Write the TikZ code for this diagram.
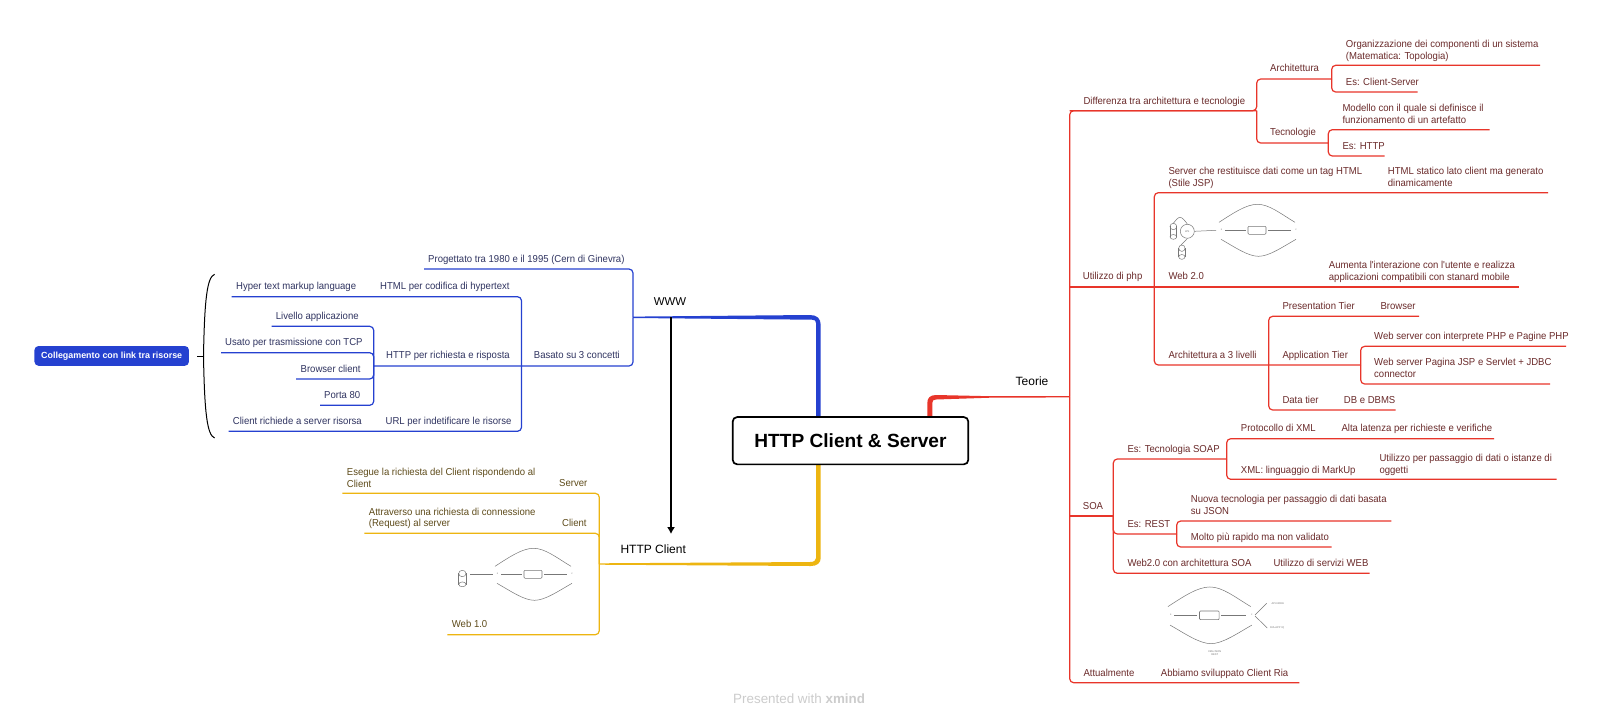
\documentclass[tikz,border=0pt]{standalone}
\usepackage{fontspec}
\setmainfont{Liberation Sans}
\newfontfamily\lblf[FakeStretch=0.945]{Liberation Sans}
\usetikzlibrary{arrows.meta,calc}
\definecolor{bl}{HTML}{2541D0}
\definecolor{blt}{HTML}{2F3360}
\definecolor{rd}{HTML}{E8352A}
\definecolor{rdt}{HTML}{6A2A2A}
\definecolor{yl}{HTML}{EDB511}
\definecolor{ylt}{HTML}{5E4B1A}
\definecolor{gr}{HTML}{777777}
\tikzset{
  lbl/.style={anchor=north west,inner sep=0pt,align=left,font=\lblf\fontsize{10.1}{11.5}\selectfont},
  bt/.style={lbl,text=blt}, rt/.style={lbl,text=rdt}, yt/.style={lbl,text=ylt},
  mainlbl/.style={anchor=center,inner sep=0pt,text=black,font=\fontsize{12}{14}\selectfont},
  rootbox/.style={draw=black,fill=white,line width=1.7pt,rounded corners=4.5pt,minimum width=235.6pt,minimum height=47.3pt,inner sep=0pt,font=\bfseries\fontsize{19.1}{22}\selectfont},
  pill/.style={fill=bl,text=white,rounded corners=4pt,minimum width=154.5pt,minimum height=19.7pt,inner sep=0pt,font=\bfseries\fontsize{8.9}{11}\selectfont},
  bline/.style={draw=bl,line width=1.2pt,rounded corners=4pt},
  rline/.style={draw=rd,line width=1.2pt,rounded corners=4pt},
  yline/.style={draw=yl,line width=1.2pt,rounded corners=4pt},
  pic/.style={draw=gr,line width=0.5pt},
  tiny/.style={inner sep=0pt,text=gr,font=\fontsize{2.6}{3}\selectfont},
}
\newcommand{\tp}[8]{%
  \node[#2] (#1) at (#3,{#4-4.3}) {\rule{0pt}{8pt}#5};
  \coordinate (#1-l) at (#6,#8);
  \coordinate (#1-r) at (#7,#8);}
\newcommand{\srv}[3]{% middle of a web diagram: left x, centre y, scale
  \begin{scope}[shift={(#1,#2)},x=#3pt,y=-#3pt]
    \draw[pic,line width=.6pt,rounded corners=1pt] (28,-4) rectangle (46,4);
    \draw[pic] (5,0) -- (26,0) (48,0) -- (71,0);
    \draw[pic] (-1,-8) .. controls (13,-17) and (26,-26) .. (37.5,-26) .. controls (49,-26) and (60,-17) .. (75,-8);
    \draw[pic] (1,9) .. controls (15,17) and (28,26) .. (38.5,26) .. controls (49,26) and (62,17) .. (76,9);
    \node[tiny] at (1.5,0) {s};
    \node[tiny] at (76,0) {c};
  \end{scope}}
\newcommand{\cyl}[4]{% x0 y0 x1 y1
  \draw[pic] (#1,#2+3) -- (#1,#4-2) (#3,#2+3) -- (#3,#4-2);
  \draw[pic] ({(#1+#3)/2},{#2+3.2}) ellipse ({(#3-#1)/2} and 3.2);
  \draw[pic] ({(#1+#3)/2},{#4-2.4}) ellipse ({(#3-#1)/2} and 2.4);}
\begin{document}
\begin{tikzpicture}[x=1pt,y=-1pt]
\useasboundingbox[fill=white] (0,0) rectangle (1600,721);

% ---------- root
\coordinate (rootc) at (850.5,440.7);

% ---------- blue branch
\node[mainlbl,font=\fontsize{11.4}{14}\selectfont] (www) at (670,301.7) {WWW};
\coordinate (www-l) at (633,317.3);
\tp{proj}{bt}{428}{258.3}{Progettato tra 1980 e il 1995 (Cern di Ginevra)}{424}{633}{269}
\tp{basato}{bt}{533.7}{355}{Basato su 3 concetti}{521.5}{633}{366}
\tp{html}{bt}{380}{286}{HTML per codifica di hypertext}{375}{521.5}{296.7}
\tp{hyper}{bt}{236}{286}{Hyper text markup language}{231.5}{375}{296.7}
\tp{http}{bt}{386}{355}{HTTP per richiesta e risposta}{373.7}{521.5}{366}
\tp{url}{bt}{385.5}{420.7}{URL per indetificare le risorse}{375}{521.5}{431.3}
\tp{creq}{bt}{232.7}{420.7}{Client richiede a server risorsa}{228.5}{375}{431.3}
\tp{liv}{bt}{275.7}{315.7}{Livello applicazione}{271.5}{373.7}{326.3}
\tp{usato}{bt}{225}{341.7}{Usato per trasmissione con TCP}{221}{373.7}{352.7}
\tp{brow}{bt}{300.5}{368.3}{Browser client}{296}{373.7}{379}
\tp{porta}{bt}{324}{394.7}{Porta 80}{320}{373.7}{405.3}
\draw[bline] (proj-l) -- (proj-r) -- (www-l);
\draw[bline] (http-l) -- (basato-r) -- (www-l);
\draw[bline] (hyper-l) -- (html-r) -- (basato-l);
\draw[bline] (creq-l) -- (url-r) -- (basato-l);
\draw[bline] (liv-l) -- (liv-r) -- (http-l);
\draw[bline] (usato-l) -- (usato-r) -- (http-l);
\draw[bline] (brow-l) -- (brow-r) -- (http-l);
\draw[bline] (porta-l) -- (porta-r) -- (http-l);
\fill[bl] ($(www-l)+(0,-.7)$) -- (810,315) .. controls (817,315) and (820.7,318.5) .. (820.7,325) -- (820.7,418) -- (816,418) -- (816,323) .. controls (816,320.8) and (815,319.7) .. (812,319.7) -- ($(www-l)+(0,.7)$) -- cycle;

% brace and floating topic
\node[pill] (coll) at (111.7,355.9) {Collegamento con link tra risorse};
\coordinate (brtip) at (197,356);
\coordinate (brmid) at (203.5,356);
\draw[black,line width=1pt] (214.6,274.3) .. controls (207,277) and (204.5,300) .. (brmid) .. controls (204.5,412) and (207,435) .. (214.6,438);
\draw[black,line width=1pt] (brtip) -- (brmid);

% ---------- yellow branch
\node[mainlbl] (hc) at (653.2,548.7) {HTTP Client};
\coordinate (hc-l) at (599.3,564);
\tp{serv}{yt}{559}{482.7}{Server}{342.3}{599.3}{493.3}
\node[yt] (eseg) at (346.7,467.4) {\rule{0pt}{8pt}Esegue la richiesta del Client rispondendo al\\Client};
\tp{cli}{yt}{562}{522.7}{Client}{364.3}{599.3}{533.3}
\node[yt] (attr) at (368.7,507) {\rule{0pt}{8pt}Attraverso una richiesta di connessione\\(Request) al server};
\tp{w10}{yt}{451.7}{624}{Web 1.0}{447.3}{599.3}{634.7}
\draw[yline] (serv-l) -- (serv-r) -- (hc-l);
\draw[yline] (cli-l) -- (cli-r) -- (hc-l);
\draw[yline] (w10-l) -- (w10-r) -- (hc-l);
\fill[yl] ($(hc-l)+(0,-.7)$) -- (810,562) .. controls (814,562) and (816,560.5) .. (816,558) -- (816,463) -- (820.7,463) -- (820.7,558) .. controls (820.7,563) and (817,566) .. (811,566) -- ($(hc-l)+(0,.7)$) -- cycle;
\srv{496}{574.3}{1}
\cyl{458.7}{570.3}{466}{586.7}
\draw[pic] (470,574.3) -- (493.3,574.3);

% ---------- red branch
\node[mainlbl] (teo) at (1032,381.7) {Teorie};
\coordinate (teo-r) at (1069.7,396.7);
\fill[rd] ($(teo-r)+(0,-.7)$) -- (990,396.2) -- (936,395) .. controls (930,395) and (927.3,398) .. (927.3,403) -- (927.3,418) -- (932.3,418) -- (932.3,403) .. controls (932.3,400.5) and (933.5,399.5) .. (936,399.5) -- (990,397.7) -- ($(teo-r)+(0,.7)$) -- cycle;

\tp{diff}{rt}{1083.3}{100.3}{Differenza tra architettura e tecnologie}{1069.7}{1256.7}{110.7}
\tp{arch}{rt}{1270}{68}{Architettura}{1256.7}{1331.7}{79}
\tp{tecn}{rt}{1270}{132}{Tecnologie}{1256.7}{1328.3}{143}
\tp{org}{rt}{1345.7}{43.7}{Organizzazione dei componenti di un sistema\\(Matematica: Topologia)}{1331.7}{1540}{65.3}
\tp{escs}{rt}{1345.7}{81.3}{Es: Client-Server}{1331.7}{1417.7}{92}
\tp{mod}{rt}{1342.3}{107.7}{Modello con il quale si definisce il\\funzionamento di un artefatto}{1328.3}{1489.7}{129.7}
\tp{eshttp}{rt}{1342.3}{145.3}{Es: HTTP}{1328.3}{1384.7}{156}
\draw[rline] (diff-r) -- (diff-l) -- (teo-r);
\draw[rline] (diff-l) -- (diff-r) -- (arch-l) -- (arch-r);
\draw[rline] (diff-r) -- (tecn-l) -- (tecn-r);
\draw[rline] (org-r) -- (org-l) -- (arch-r);
\draw[rline] (escs-r) -- (escs-l) -- (arch-r);
\draw[rline] (mod-r) -- (mod-l) -- (tecn-r);
\draw[rline] (eshttp-r) -- (eshttp-l) -- (tecn-r);

\tp{util}{rt}{1082.7}{276}{Utilizzo di php}{1069.7}{1154.3}{287}
\tp{w20}{rt}{1168.3}{276}{Web 2.0}{1154.3}{1320}{287}
\tp{aum}{rt}{1328.7}{265}{Aumenta l'interazione con l'utente e realizza\\applicazioni compatibili con stanard mobile}{1320}{1519}{287}
\tp{scd}{rt}{1168.3}{170.7}{Server che restituisce dati come un tag HTML\\(Stile JSP)}{1154.3}{1380}{192.7}
\tp{hst}{rt}{1387.7}{170.7}{HTML statico lato client ma generato\\dinamicamente}{1380}{1548}{192.7}
\tp{a3}{rt}{1168.3}{354.3}{Architettura a 3 livelli}{1154.3}{1268.7}{365}
\tp{appt}{rt}{1282.3}{354.3}{Application Tier}{1268.7}{1360.7}{365}
\tp{pres}{rt}{1282.3}{305.7}{Presentation Tier}{1268.7}{1375}{316.3}
\tp{brw}{rt}{1380.3}{305.7}{Browser}{1375}{1419}{316.3}
\tp{data}{rt}{1282.3}{399.7}{Data tier}{1268.7}{1338}{410}
\tp{dbms}{rt}{1343.7}{399.7}{DB e DBMS}{1338}{1395.7}{410}
\tp{wsphp}{rt}{1374}{335.3}{Web server con interprete PHP e Pagine PHP}{1360.7}{1566}{346.3}
\tp{wsjsp}{rt}{1374}{361.7}{Web server Pagina JSP e Servlet + JDBC\\connector}{1360.7}{1550}{384}
\draw[rline] (util-l) -- (aum-r);
\draw[rline] (util-l) -- (teo-r);
\draw[rline] (hst-r) -- (scd-l) -- (util-r) -- (a3-l) -- (appt-r);
\draw[rline] (brw-r) -- (pres-l) -- (appt-l) -- (data-l) -- (dbms-r);
\draw[rline] (wsphp-r) -- (wsphp-l) -- (appt-r);
\draw[rline] (wsjsp-r) -- (wsjsp-l) -- (appt-r);

% Web 2.0 picture
\srv{1220}{230.3}{1}
\cyl{1170}{223.3}{1176.7}{239.3}
\cyl{1178.7}{245}{1185}{259.3}
\node[draw=gr,line width=.5pt,circle,minimum size=14pt,inner sep=0pt,tiny] (wsv) at (1187.3,231.3) {WS};
\draw[pic] (wsv.east) -- (1216,230.3);
\draw[pic] (1173.3,223.3) .. controls (1176,220) and (1178,217.3) .. (1180,217.3) .. controls (1182,217.3) and (1185,220.5) .. (wsv.north);
\draw[pic] (1181,245) -- (wsv.south);

\tp{soa}{rt}{1082.7}{505.7}{SOA}{1069.7}{1113.3}{516}
\tp{soap}{rt}{1127.3}{448.3}{Es: Tecnologia SOAP}{1113.3}{1226.7}{459}
\tp{rest}{rt}{1127.3}{523.3}{Es: REST}{1113.3}{1176.7}{534}
\tp{w2soa}{rt}{1127.3}{562.3}{Web2.0 con architettura SOA}{1113.3}{1265}{573.3}
\tp{serw}{rt}{1273.3}{562.3}{Utilizzo di servizi WEB}{1265}{1369.7}{573.3}
\tp{pxml}{rt}{1240.7}{427.7}{Protocollo di XML}{1226.7}{1335}{438.7}
\tp{alta}{rt}{1341.3}{427.7}{Alta latenza per richieste e verifiche}{1335}{1494}{438.7}
\tp{xml}{rt}{1240.7}{469.3}{XML: linguaggio di MarkUp}{1226.7}{1372}{479.3}
\tp{upass}{rt}{1379.3}{457.7}{Utilizzo per passaggio di dati o istanze di\\oggetti}{1372}{1556.7}{479.3}
\tp{nuova}{rt}{1190.7}{499}{Nuova tecnologia per passaggio di dati basata\\su JSON}{1176.7}{1391.3}{521}
\tp{molto}{rt}{1190.7}{536.7}{Molto più rapido ma non validato}{1176.7}{1331.7}{547}
\draw[rline] (soa-l) -- (teo-r);
\draw[rline] (soa-l) -- (soa-r);
\draw[rline] (soap-r) -- (soap-l) -- (soa-r);
\draw[rline] (serw-r) -- (w2soa-l) -- (soa-r);
\draw[rline] (soa-r) -- (rest-l) -- (rest-r);
\draw[rline] (alta-r) -- (pxml-l) -- (soap-r);
\draw[rline] (upass-r) -- (xml-l) -- (soap-r);
\draw[rline] (nuova-r) -- (nuova-l) -- (rest-r);
\draw[rline] (molto-r) -- (molto-l) -- (rest-r);

% SOA picture
\srv{1169}{615.3}{1.09}
\draw[pic] (1255,615) -- (1266.7,603.3) (1255,616) -- (1267.3,628);
\node[tiny,anchor=west] (api) at (1271.3,603.3) {API-NODE};
\node[tiny,anchor=west] (ria) at (1270,628) {RIA-APP IQ};
\node[tiny,align=center] (rst) at (1214.7,652.6) {XML/JSON\\REST};

\tp{att}{rt}{1083.3}{672.3}{Attualmente}{1069.7}{1155}{682.7}
\tp{ria2}{rt}{1160.7}{672.3}{Abbiamo sviluppato Client Ria}{1155}{1299.3}{682.7}
\draw[rline] (ria2-r) -- (att-l) -- (teo-r);

% root on top of its branches
\node[rootbox] (root) at (rootc) {HTTP Client \& Server};

% relationship arrow
\coordinate (arrs) at (671,317.3);
\coordinate (arre) at (671,534);
\draw[-{Latex[length=7pt,width=8pt]},black,line width=1.2pt] (arrs) -- (arre);

% footer
\node[anchor=west,inner sep=0pt,text=black!20,font=\fontsize{13.4}{16}\selectfont] (foot) at (733,699) {Presented with \textbf{xmind}};
\end{tikzpicture}
\end{document}
